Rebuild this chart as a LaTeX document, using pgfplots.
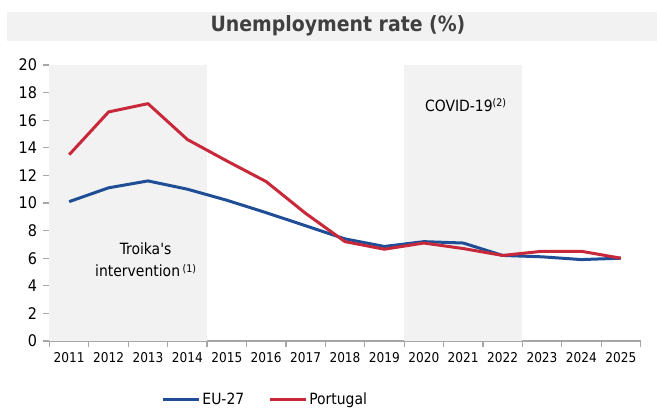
\documentclass[border=0pt]{standalone}
\usepackage{fontspec}
\setmainfont{DejaVu Sans Condensed}
\usepackage{pgfplots}
\pgfplotsset{compat=1.18}

\definecolor{eublue}{HTML}{1F4E96}
\definecolor{ptred}{HTML}{C8283A}
\definecolor{band}{HTML}{F2F2F2}
\definecolor{axisgray}{HTML}{A6A6A6}
\definecolor{titlegray}{HTML}{404040}

\begin{document}
\begin{tikzpicture}[x=1pt,y=1pt]
  \useasboundingbox (0,0) rectangle (657,410);
  % title bar
  \fill[band] (7,369) rectangle (657,398);
  \node[font=\bfseries\fontsize{21}{24}\selectfont, text=titlegray] at (338,384) {Unemployment rate (\%)};

  \begin{axis}[
      at={(49.5pt,69pt)}, anchor=south west,
      scale only axis,
      width=591pt, height=276pt,
      xmin=-0.5, xmax=14.5,
      ymin=0, ymax=20,
      ytick={0,2,...,20},
      xtick={0,...,14},
      xticklabels={2011,2012,2013,2014,2015,2016,2017,2018,2019,2020,2021,2022,2023,2024,2025},
      minor xtick={-0.5,0.5,...,14.5},
      major x tick style={draw=none},
      /pgf/number format/assume math mode=true,
      axis lines*=left,
      axis line style={axisgray, line width=1.2pt},
      every tick/.style={axisgray, line width=1.2pt},
      tick align=outside,
      major tick length=6pt, minor tick length=6pt,
      xticklabel style={font=\fontsize{13.5}{15}\selectfont, yshift=-2pt},
      yticklabel style={font=\fontsize{16}{18}\selectfont, xshift=-3pt},
      legend style={at={(0.365,-0.212)}, anchor=center, draw=none, fill=none,
        legend columns=2, font=\fontsize{15.5}{17}\selectfont,
        /tikz/every even column/.append style={column sep=22pt}},
      legend image code/.code={\draw[#1, line width=3pt] (0pt,0pt) -- (36pt,0pt);},
      clip=false,
    ]
    \fill[band] (axis cs:-0.5,0) rectangle (axis cs:3.5,20);
    \fill[band] (axis cs:8.5,0) rectangle (axis cs:11.5,20);

    \addplot[eublue, line width=3pt, line join=round] coordinates {
      (0,10.1) (1,11.1) (2,11.6) (3,11.0) (4,10.2) (5,9.3) (6,8.35)
      (7,7.4) (8,6.85) (9,7.2) (10,7.1) (11,6.2) (12,6.1) (13,5.9) (14,6.0)
    };
    \addlegendentry{EU-27}
    \addplot[ptred, line width=3pt, line join=round] coordinates {
      (0,13.5) (1,16.6) (2,17.2) (3,14.6) (4,13.05) (5,11.55) (6,9.25)
      (7,7.2) (8,6.65) (9,7.1) (10,6.7) (11,6.2) (12,6.5) (13,6.5) (14,6.0)
    };
    \addlegendentry{Portugal}

    \node[align=center, font=\fontsize{15.5}{22}\selectfont] at (axis cs:1.94,5.9)
      {Troika\textquotesingle s\\intervention\,\raisebox{0.5ex}{\fontsize{10.5}{12}\selectfont(1)}};
    \node[font=\fontsize{15.5}{17}\selectfont] at (axis cs:10.06,17.1)
      {COVID-19\raisebox{0.6ex}{\fontsize{10.5}{12}\selectfont(2)}};
  \end{axis}
\end{tikzpicture}
\end{document}
